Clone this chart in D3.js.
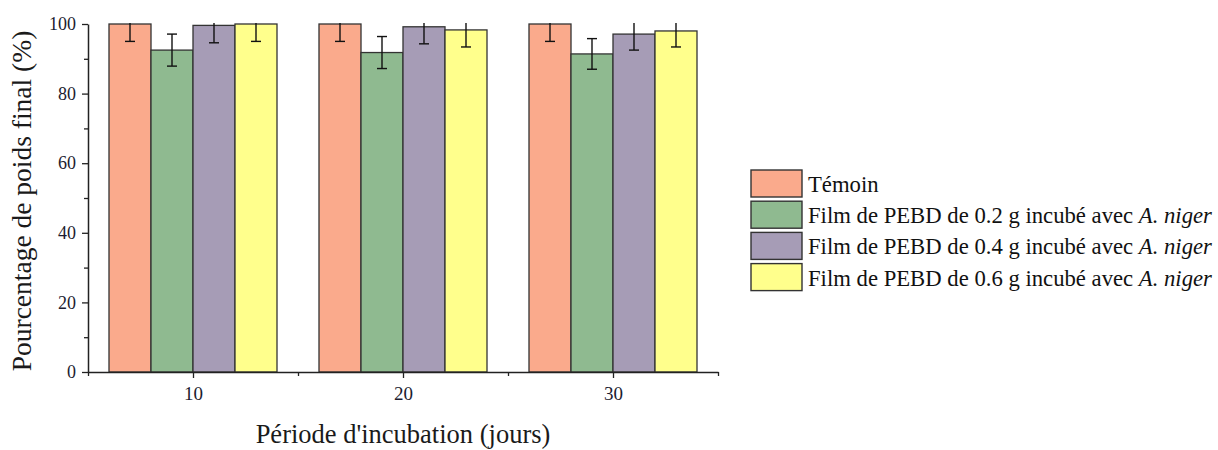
<!DOCTYPE html>
<html>
<head>
<meta charset="utf-8">
<script src="https://cdn.jsdelivr.net/npm/d3@7"></script>
<style>
  html, body { margin: 0; padding: 0; background: #fff; }
  svg { display: block; }
</style>
</head>
<body>
<svg id="chart" width="1218" height="450"></svg>
<script>
// Incubation periods (days) and series
const periods = [10, 20, 30];
const seriesNames = [
  "Témoin",
  "Film de PEBD de 0.2 g incubé avec ",
  "Film de PEBD de 0.4 g incubé avec ",
  "Film de PEBD de 0.6 g incubé avec "
];
const seriesItalic = ["", "A. niger", "A. niger", "A. niger"];
const seriesColors = ["#FAAA8C", "#8FBA90", "#A69CB6", "#FFFF8C"];

// Final weight percentage per series, one value per period
const temoin = [100, 100, 100];
const film02 = [92.5, 91.8, 91.4];
const film04 = [99.6, 99.2, 97.1];
const film06 = [100, 98.3, 98.0];

// Standard deviations
const temoinErr = [5.0, 5.0, 5.0];
const film02Err = [4.6, 4.6, 4.4];
const film04Err = [5.0, 4.9, 4.6];
const film06Err = [5.0, 4.9, 4.6];

const yTicks = [0, 20, 40, 60, 80, 100];
const xTicks = [10, 20, 30];

const values = [temoin, film02, film04, film06];
const errors = [temoinErr, film02Err, film04Err, film06Err];

const FONT = "'Liberation Serif', 'Times New Roman', serif";
const svg = d3.select("#chart");
const plotL = 88, plotR = 718, plotT = 24, plotB = 372;

const x = d3.scaleLinear().domain([5, 35]).range([plotL, plotR]);
const y = d3.scaleLinear().domain([0, 100]).range([plotB, plotT]);

const barW = (x(20) - x(10)) * 0.2;         // each bar 20% of group spacing

// clip so error bars stop at the top of the axis
svg.append("defs").append("clipPath").attr("id", "plotClip")
  .append("rect").attr("x", plotL).attr("y", plotT - 1).attr("width", plotR - plotL).attr("height", plotB - plotT + 1);

const plot = svg.append("g").attr("clip-path", "url(#plotClip)");

const rows = [];
periods.forEach((p, i) => {
  values.forEach((s, k) => {
    rows.push({ period: p, k, v: s[i], e: errors[k][i] });
  });
});

const bx = d => x(d.period) - 2 * barW + d.k * barW;

plot.selectAll("rect.bar").data(rows).enter().append("rect")
  .attr("class", "bar")
  .attr("x", bx)
  .attr("y", d => y(d.v))
  .attr("width", barW)
  .attr("height", d => y(0) - y(d.v))
  .attr("fill", d => seriesColors[d.k])
  .attr("stroke", "#333")
  .attr("stroke-width", 1.3);

// error bars
const eb = plot.selectAll("g.err").data(rows).enter().append("g").attr("class", "err")
  .attr("stroke", "#111").attr("stroke-width", 1.4);
const capW = 5;
eb.append("line")
  .attr("x1", d => bx(d) + barW / 2).attr("x2", d => bx(d) + barW / 2)
  .attr("y1", d => y(d.v + d.e)).attr("y2", d => y(d.v - d.e));
eb.append("line")
  .attr("x1", d => bx(d) + barW / 2 - capW).attr("x2", d => bx(d) + barW / 2 + capW)
  .attr("y1", d => y(d.v + d.e)).attr("y2", d => y(d.v + d.e));
eb.append("line")
  .attr("x1", d => bx(d) + barW / 2 - capW).attr("x2", d => bx(d) + barW / 2 + capW)
  .attr("y1", d => y(d.v - d.e)).attr("y2", d => y(d.v - d.e));

// Y axis with minor ticks
const yMinor = d3.range(10, 100, 20);
svg.append("g").attr("transform", `translate(${plotL},0)`)
  .call(d3.axisLeft(y).tickValues(yMinor).tickSize(4).tickFormat(""))
  .call(g => g.select(".domain").remove())
  .selectAll("line").attr("stroke", "#222").attr("stroke-width", 1.3);

const yAxis = svg.append("g").attr("transform", `translate(${plotL},0)`)
  .attr("font-family", null)
  .call(d3.axisLeft(y).tickValues(yTicks).tickSize(6).tickSizeOuter(0).tickPadding(6));
yAxis.attr("font-family", FONT).attr("font-size", 18);
yAxis.select(".domain").attr("stroke", "#222").attr("stroke-width", 1.5);
yAxis.selectAll("line").attr("stroke", "#222").attr("stroke-width", 1.3);
yAxis.selectAll("text").style("font-family", FONT).style("font-size", "18px").attr("fill", "#1c1c30");

// X axis with minor ticks
svg.append("g").attr("transform", `translate(0,${plotB})`)
  .call(d3.axisBottom(x).tickValues([5, 15, 25, 35]).tickSize(4).tickFormat(""))
  .call(g => g.select(".domain").remove())
  .selectAll("line").attr("stroke", "#222").attr("stroke-width", 1.3);

const xAxis = svg.append("g").attr("transform", `translate(0,${plotB})`)
  .call(d3.axisBottom(x).tickValues(xTicks).tickSize(6).tickSizeOuter(0).tickPadding(9));
xAxis.attr("font-family", FONT).attr("font-size", 19);
xAxis.select(".domain").attr("stroke", "#222").attr("stroke-width", 1.5);
xAxis.selectAll("line").attr("stroke", "#222").attr("stroke-width", 1.3);
xAxis.selectAll("text").style("font-family", FONT).style("font-size", "19px").attr("fill", "#1c1c30");

// axis titles
svg.append("text")
  .attr("x", x(20)).attr("y", 443)
  .attr("text-anchor", "middle").attr("fill", "#1a1a1a")
  .style("font-family", FONT).style("font-size", "26.5px")
  .text("Période d'incubation (jours)");

svg.append("text")
  .attr("transform", `translate(31,201) rotate(-90)`)
  .attr("text-anchor", "middle").attr("fill", "#1a1a1a")
  .style("font-family", FONT).style("font-size", "27.5px")
  .text("Pourcentage de poids final (%)");

// legend
const legend = svg.append("g").attr("transform", "translate(751,170)");
const step = 31.2;
seriesNames.forEach((name, k) => {
  const g = legend.append("g").attr("transform", `translate(0,${k * step})`);
  g.append("rect").attr("x", 0).attr("y", 0).attr("width", 51).attr("height", 27)
    .attr("fill", seriesColors[k]).attr("stroke", "#333").attr("stroke-width", 1.4);
  const t = g.append("text").attr("x", 57).attr("y", 22).attr("fill", "#111")
    .style("font-family", FONT).style("font-size", "22.7px");
  t.append("tspan").text(name);
  if (seriesItalic[k]) t.append("tspan").attr("font-style", "italic").text(seriesItalic[k]);
});
</script>
</body>
</html>
